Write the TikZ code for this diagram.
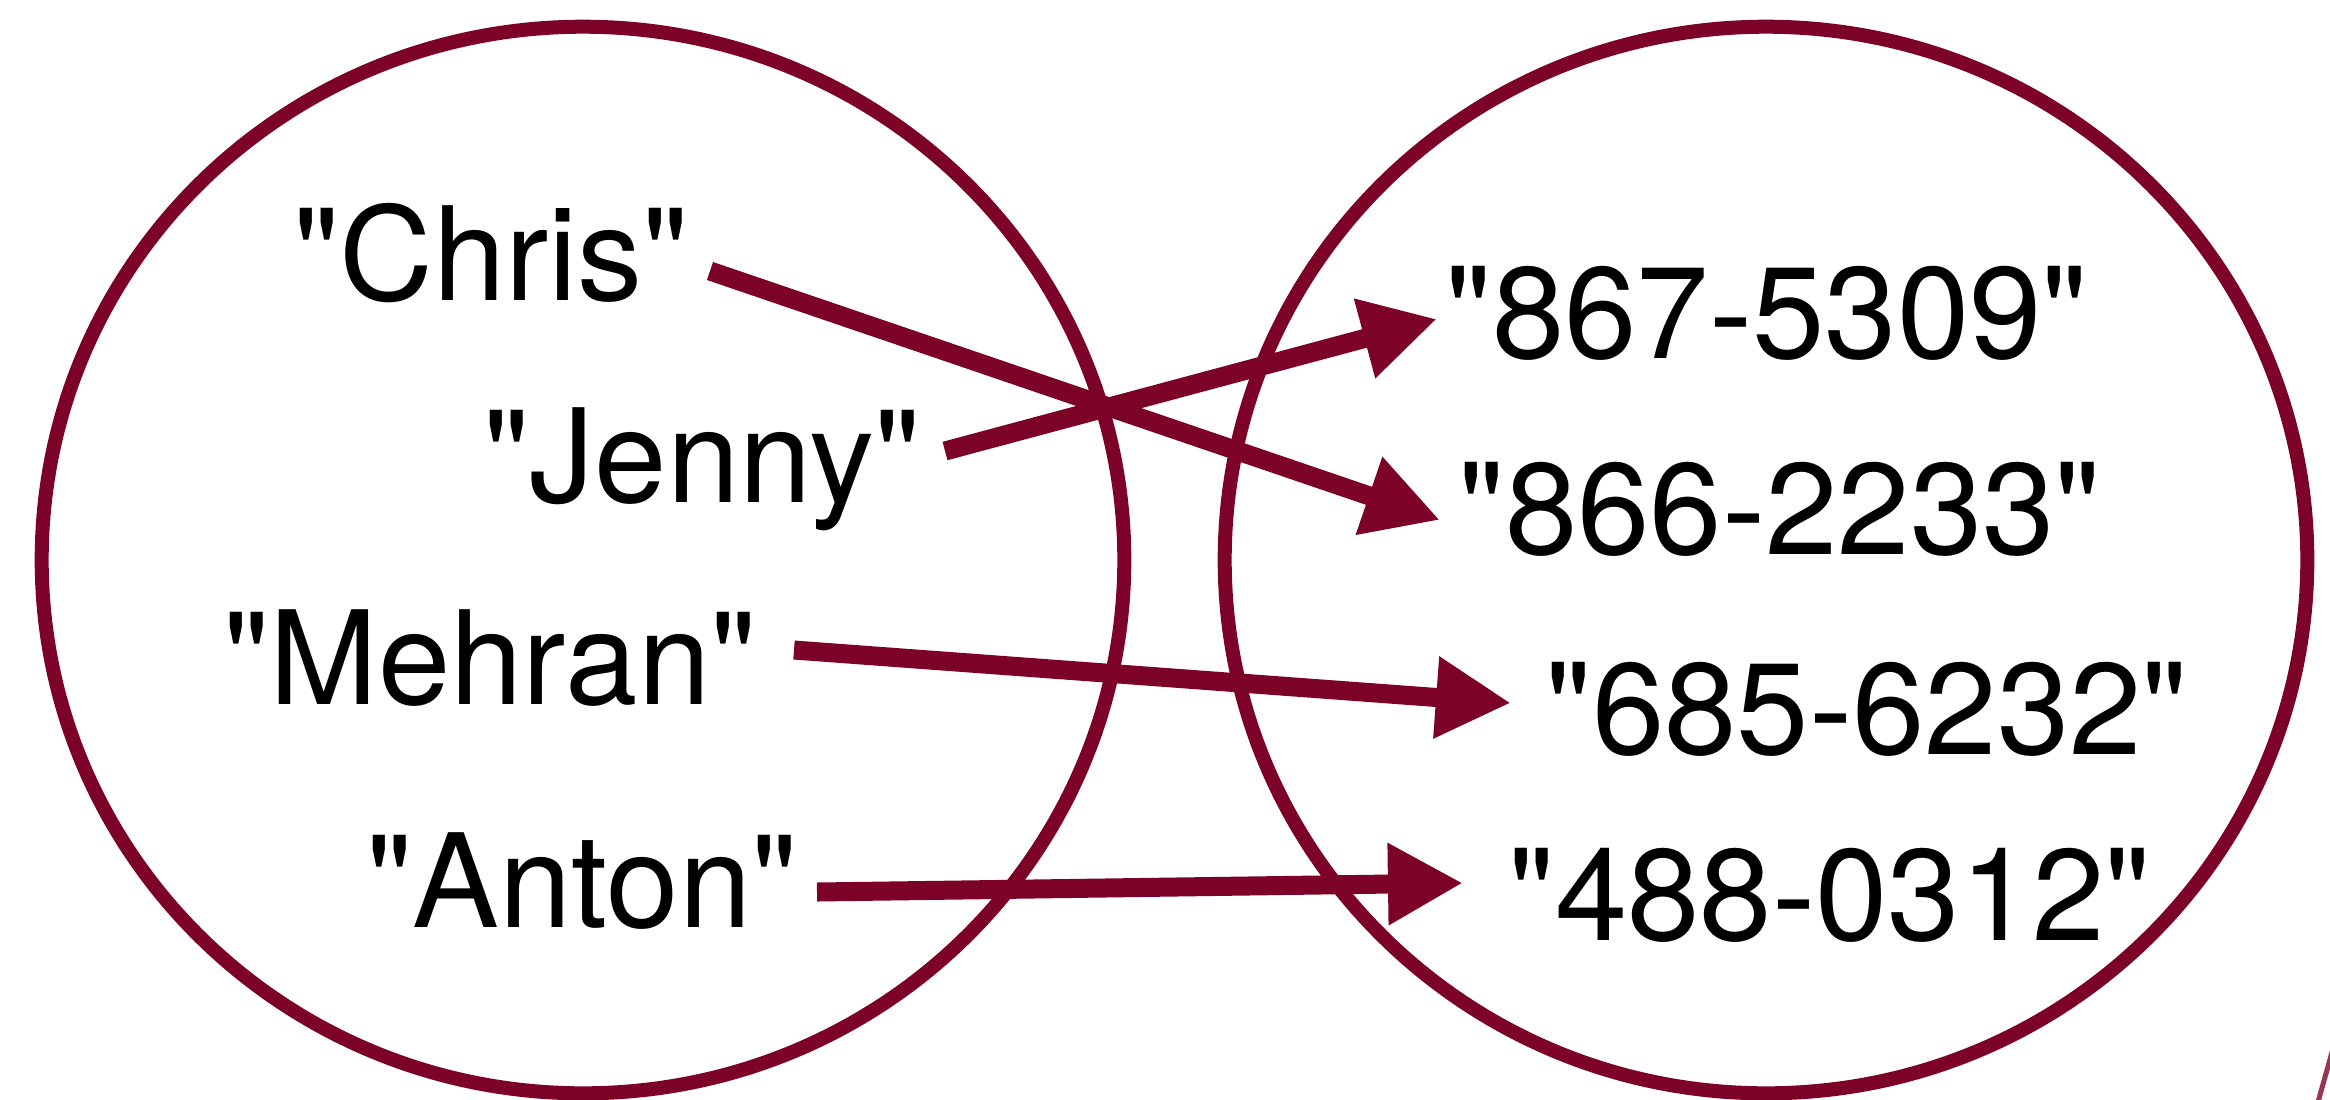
\documentclass[tikz,border=0pt]{standalone}
\usepackage{fontspec}
\setmainfont{TeX Gyre Heros}[Ligatures=TeXOff]
\usetikzlibrary{arrows.meta,shapes.geometric}
\definecolor{maroon}{RGB}{125,2,40}
\tikzset{
  setshape/.style={draw=maroon, line width=0.14cm, ellipse, inner sep=0pt,
    minimum width=10.82cm, minimum height=10.66cm},
  lbl/.style={inner sep=0pt, anchor=base, font=\fontsize{37}{44}\selectfont},
  arr/.style={draw=maroon, line width=0.19cm,
    -{Triangle[length=0.75cm, width=0.77cm]}}
}
\begin{document}
\begin{tikzpicture}[x=0.01cm, y=-0.01cm]
\useasboundingbox (0,0) rectangle (2330,1099);
\clip (0,0) rectangle (2330,1099);
\fill[white] (0,0) rectangle (2330,1099);
\node[setshape] (setL) at (583,560) {};
\node[setshape] (setR) at (1766,560) {};
% keys
\node[lbl] (chris)  at (491,300) {"Chris"};
\node[lbl] (jenny)  at (702,502) {"Jenny"};
\node[lbl] (mehran) at (490,704) {"Mehran"};
\node[lbl] (anton)  at (582,927) {"Anton"};
% values
\node[lbl] (v1) at (1767,358) {"867-5309"};
\node[lbl] (v2) at (1780,554) {"866-2233"};
\node[lbl] (v3) at (1867,754) {"685-6232"};
\node[lbl] (v4) at (1830,940) {"488-0312"};
% connector end points
\coordinate (cS) at (710,271);  \coordinate (cT) at (1440,520);
\coordinate (jS) at (945,451);  \coordinate (jT) at (1437,319);
\coordinate (mS) at (794,650);  \coordinate (mT) at (1511,703);
\coordinate (aS) at (817,892);  \coordinate (aT) at (1463,883);
\draw[arr] (cS) -- (cT);
\draw[arr] (jS) -- (jT);
\draw[arr] (mS) -- (mT);
\draw[arr] (aS) -- (aT);
% small fragment at bottom right corner
\coordinate (fA) at (2334,1045);
\coordinate (fB) at (2318,1102);
\draw[maroon!80, line width=0.05cm] (fA) -- (fB);
\end{tikzpicture}
\end{document}
